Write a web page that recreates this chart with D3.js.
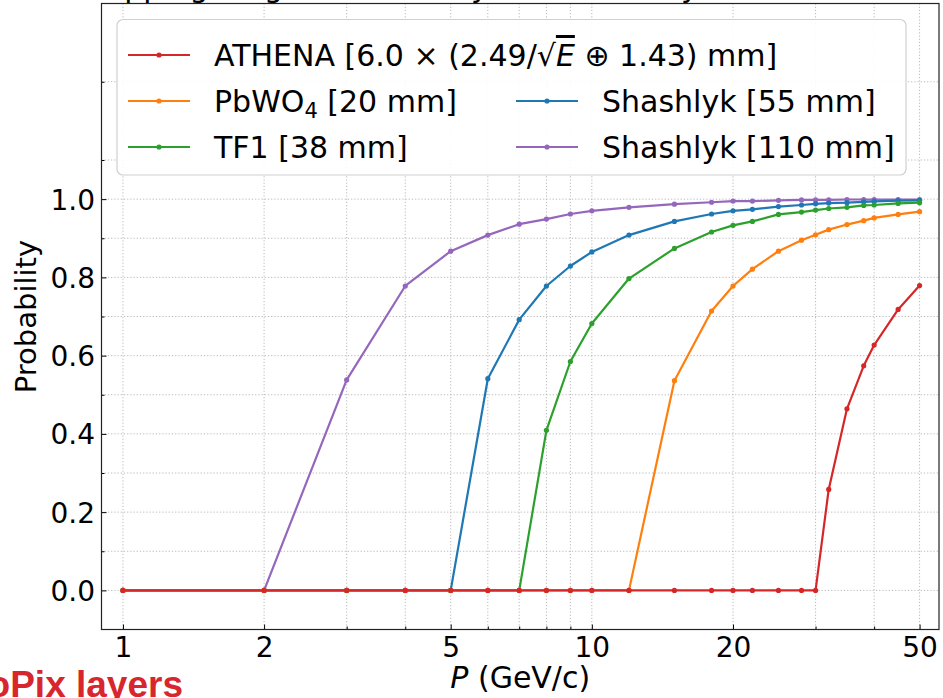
<!DOCTYPE html>
<html>
<head>
<meta charset="utf-8">
<script src="https://cdn.jsdelivr.net/npm/d3@7/dist/d3.min.js"></script>
<style>
  html, body { margin: 0; padding: 0; background: #fff; }
  svg { display: block; }
</style>
</head>
<body>
<svg id="chart" width="943" height="698"></svg>
<script>
// ---------------- data ----------------
const energies = [1,2,3,4,5,6,7,8,9,10,12,15,18,20,22,25,28,30,32,35,38,40,45,50];
const athena   = [0,0,0,0,0,0,0,0,0,0,0,0,0,0,0,0,0,0,0.258,0.464,0.574,0.627,0.718,0.779];
const pbwo4    = [0,0,0,0,0,0,0,0,0,0,0,0.536,0.714,0.778,0.821,0.867,0.895,0.909,0.922,0.935,0.945,0.952,0.961,0.968];
const tf1      = [0,0,0,0,0,0,0,0.409,0.585,0.682,0.797,0.874,0.916,0.933,0.943,0.961,0.967,0.972,0.976,0.979,0.984,0.985,0.989,0.991];
const shash55  = [0,0,0,0,0,0.541,0.692,0.778,0.829,0.865,0.908,0.943,0.962,0.970,0.974,0.981,0.985,0.988,0.990,0.991,0.993,0.994,0.996,0.997];
const shash110 = [0,0,0.538,0.778,0.867,0.908,0.936,0.949,0.962,0.970,0.979,0.987,0.992,0.995,0.995,0.997,0.998,0.998,0.998,0.999,0.999,0.999,0.999,0.999];

const xTickValues = [1,2,5,10,20,50];
const xTickLabels = ["1","2","5","10","20","50"];
const xGridValues = [1,2,3,4,5,6,7,8,9,10,20,30,40,50];
const yTickValues = [0,0.2,0.4,0.6,0.8,1.0];
const yTickLabels = ["0.0","0.2","0.4","0.6","0.8","1.0"];
const yMinorValues = [0.1,0.3,0.5,0.7,0.9,1.1,1.3];

const seriesNames  = ["Shashlyk [110 mm]","Shashlyk [55 mm]","TF1 [38 mm]","PbWO4 [20 mm]","ATHENA"];
const seriesValues = [shash110, shash55, tf1, pbwo4, athena];
const seriesColors = ["#9467bd","#1f77b4","#2ca02c","#ff7f0e","#d62728"];

// ---------------- layout ----------------
const L = 101.5, R = 939, T = 3.5, B = 629.5;
const svg = d3.select("#chart");
const x = d3.scaleLog().domain([0.9, 55]).range([L, R]);
const y = d3.scaleLinear().domain([-0.1, 1.5]).range([B, T]);
const font = "'DejaVu Sans', sans-serif";

// clipped title at the very top
svg.append("text")
  .attr("x", 75).attr("y", -3)
  .attr("font-family", font).attr("font-size", 30).attr("fill", "#000")
  .text("Stopping lengths in ECal by tile efficiency");

// grid
const grid = svg.append("g").attr("stroke", "#b0b0b0").attr("stroke-width", 0.9)
  .attr("stroke-dasharray", "1.2,2").attr("fill", "none");
xGridValues.forEach(v => grid.append("line")
  .attr("x1", x(v)).attr("x2", x(v)).attr("y1", T).attr("y2", B));
yTickValues.concat(yMinorValues).forEach(v => grid.append("line")
  .attr("x1", L).attr("x2", R).attr("y1", y(v)).attr("y2", y(v)));

// series
const plot = svg.append("g");
seriesValues.forEach((vals, i) => {
  const pts = energies.map((e, j) => [e, vals[j]]);
  const line = d3.line().x(d => x(d[0])).y(d => y(d[1]));
  plot.append("path").datum(pts)
    .attr("d", line).attr("fill", "none")
    .attr("stroke", seriesColors[i]).attr("stroke-width", 2.2)
    .attr("stroke-linejoin", "round");
  plot.append("g").selectAll("circle").data(pts).join("circle")
    .attr("cx", d => x(d[0])).attr("cy", d => y(d[1])).attr("r", 2.6)
    .attr("fill", seriesColors[i]);
});

// axes (ticks inward)
const axX = svg.append("g").attr("transform", `translate(0,${B})`)
  .call(d3.axisBottom(x).tickValues(xTickValues).tickFormat((d,i) => xTickLabels[i])
        .tickSizeInner(-5).tickSizeOuter(0).tickPadding(8));
axX.selectAll("text").attr("font-family", font).attr("font-size", 28).attr("fill", "#000")
  .attr("dy", null).attr("y", 27);
axX.select(".domain").remove();
svg.append("g").attr("transform", `translate(0,${B})`)
  .call(d3.axisBottom(x).tickValues(xGridValues.filter(v => !xTickValues.includes(v)))
        .tickFormat("").tickSizeInner(-3).tickSizeOuter(0))
  .select(".domain").remove();

const axY = svg.append("g").attr("transform", `translate(${L},0)`)
  .call(d3.axisLeft(y).tickValues(yTickValues).tickFormat((d,i) => yTickLabels[i])
        .tickSizeInner(-5).tickSizeOuter(0).tickPadding(6.5));
axY.selectAll("text").attr("font-family", font).attr("font-size", 28).attr("fill", "#000")
  .attr("x", -6.5).attr("dy", "0.36em");
axY.select(".domain").remove();
svg.append("g").attr("transform", `translate(${L},0)`)
  .call(d3.axisLeft(y).tickValues(yMinorValues).tickFormat("").tickSizeInner(-3).tickSizeOuter(0))
  .select(".domain").remove();

// frame
svg.append("rect").attr("x", L).attr("y", T).attr("width", R - L).attr("height", B - T)
  .attr("fill", "none").attr("stroke", "#222").attr("stroke-width", 1.2);

// axis labels
const xl = svg.append("text").attr("x", (L + R) / 2).attr("y", 688)
  .attr("text-anchor", "middle").attr("font-family", font).attr("font-size", 30).attr("fill", "#000");
xl.append("tspan").attr("font-style", "italic").text("P");
xl.append("tspan").text(" (GeV/c)");

svg.append("text").attr("transform", `translate(36,${(T + B) / 2}) rotate(-90)`)
  .attr("text-anchor", "middle").attr("font-family", font).attr("font-size", 29).attr("fill", "#000")
  .text("Probability");

// legend
const lg = svg.append("g");
lg.append("rect").attr("x", 117).attr("y", 19.5).attr("width", 789).attr("height", 155.5)
  .attr("rx", 6).attr("fill", "#fff").attr("fill-opacity", 0.9)
  .attr("stroke", "#d0d0d0").attr("stroke-width", 1.2);

const legendEntries = [
  {i: 4, cx: 128, cy: 55},
  {i: 3, cx: 128, cy: 101},
  {i: 2, cx: 128, cy: 147},
  {i: 1, cx: 516, cy: 101},
  {i: 0, cx: 516, cy: 147}
];
legendEntries.forEach(e => {
  const c = seriesColors[e.i];
  lg.append("line").attr("x1", e.cx).attr("x2", e.cx + 62).attr("y1", e.cy).attr("y2", e.cy)
    .attr("stroke", c).attr("stroke-width", 2.2);
  lg.append("circle").attr("cx", e.cx + 31).attr("cy", e.cy).attr("r", 2.6).attr("fill", c);
  const t = lg.append("text").attr("x", e.cx + 86).attr("y", e.cy + 11)
    .attr("font-family", font).attr("font-size", 30).attr("fill", "#000");
  const name = seriesNames[e.i];
  if (name === "ATHENA") {
    t.append("tspan").text("ATHENA [6.0 \u00D7 (2.49/\u221A");
    t.append("tspan").attr("font-style", "italic").style("text-decoration", "overline").text("E");
    t.append("tspan").text(" \u2295 1.43) mm]");
  } else if (name.startsWith("PbWO4")) {
    t.append("tspan").text("PbWO");
    t.append("tspan").attr("font-size", 21).attr("dy", 6).text("4");
    t.append("tspan").attr("dy", -6).text(" [20 mm]");
  } else {
    t.text(name);
  }
});

// clipped red note at the bottom-left
svg.append("text").attr("x", 183).attr("y", 697).attr("text-anchor", "end")
  .attr("font-family", "'Liberation Sans', Arial, sans-serif").attr("font-weight", "bold")
  .attr("font-size", 37).attr("fill", "#d7262e")
  .text("AstroPix layers");
</script>
</body>
</html>
